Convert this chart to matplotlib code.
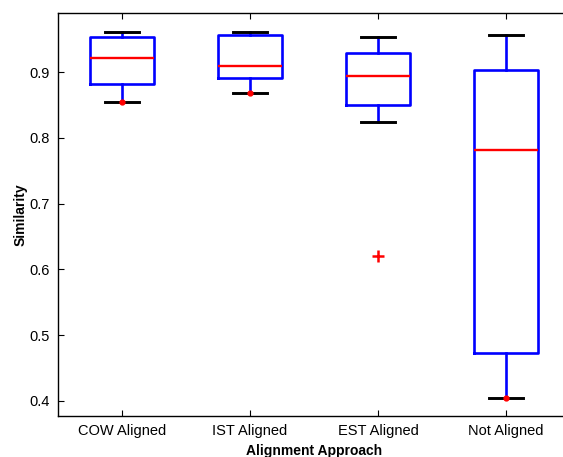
import matplotlib
matplotlib.use("Agg")
import matplotlib.pyplot as plt
import numpy as np

categories = ["COW Aligned", "IST Aligned", "EST Aligned", "Not Aligned"]
whisker_high = [0.961, 0.961, 0.953, 0.956]
q3 = [0.953, 0.956, 0.929, 0.903]
median = [0.921, 0.909, 0.894, 0.781]
q1 = [0.882, 0.891, 0.850, 0.473]
whisker_low = [0.854, 0.868, 0.824, 0.405]
outliers = [[], [], [0.621], []]
dot_values = [0.854, 0.868, None, 0.405]

plt.rcParams['font.family'] = ['Liberation Sans', 'DejaVu Sans']

fig = plt.figure(figsize=(5.63, 4.57), dpi=100)
ax = fig.add_axes([58/563, 1-416/457, 512/563, 403/457])

stats = []
for i in range(len(categories)):
    stats.append(dict(med=median[i], q1=q1[i], q3=q3[i],
                      whislo=whisker_low[i], whishi=whisker_high[i],
                      fliers=outliers[i], label=categories[i]))

positions = np.arange(1, len(categories) + 1)
ax.bxp(stats, positions=positions, widths=0.5, showfliers=True,
       boxprops=dict(color='#0000ff', linewidth=1.9),
       whiskerprops=dict(color='#0000ff', linewidth=1.9),
       capprops=dict(color='black', linewidth=2.1),
       medianprops=dict(color='#ff0000', linewidth=1.7),
       flierprops=dict(marker='+', markeredgecolor='#ff0000', markersize=9,
                       markeredgewidth=1.8, linestyle='none'),
       capwidths=0.26)

for p, v in zip(positions, dot_values):
    if v is not None:
        ax.plot([p], [v], 'o', color='#ff0000', markersize=3.5, zorder=5)

ax.set_xlim(0.5, 4.5)
ax.set_ylim(0.377, 0.990)
ax.set_yticks([0.4, 0.5, 0.6, 0.7, 0.8, 0.9])
ax.set_yticklabels(["0.4", "0.5", "0.6", "0.7", "0.8", "0.9"])
ax.set_xticks(positions)
ax.set_xticklabels(categories)
ax.tick_params(direction='in', top=True, right=True, length=4, width=0.8,
               labelsize=10.5, colors='black')
ax.tick_params(axis='x', pad=6)
ax.tick_params(axis='y', pad=6)
for s in ax.spines.values():
    s.set_linewidth(1.0)
ax.set_ylabel("Similarity", fontsize=10, fontweight='bold', labelpad=1)
ax.set_xlabel("Alignment Approach", fontsize=10, fontweight='bold', labelpad=4)

fig.savefig("out.png", dpi=100)
